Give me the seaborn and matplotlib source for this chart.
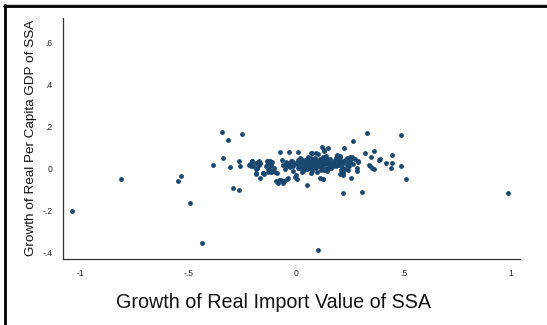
import matplotlib
matplotlib.use("Agg")
import matplotlib.pyplot as plt
from matplotlib.lines import Line2D
import seaborn as sns
import pandas as pd

# Growth of real import value (x) and real per-capita GDP (y), SSA country-years
import_growth = [
    -1.042, -0.810, -0.548, -0.535, -0.494, -0.436, 0.987, 0.101,
    -0.343, -0.250, -0.315, -0.340, -0.386, -0.306, -0.262, -0.258, -0.293, -0.265,
    0.332, 0.487, 0.264, 0.513, 0.309, 0.221, 0.051, 0.490, 0.448, 0.447, 0.441,
    0.419, 0.391, 0.385, 0.362, 0.351, 0.365, 0.345, 0.321, 0.290, 0.283, 0.256,
    0.224, 0.151, 0.123, 0.130, 0.092, 0.069, 0.012, -0.030, -0.073, 0.125, 0.255,
    -0.203, -0.171, -0.166, -0.216, -0.208, -0.179, -0.185, -0.185, -0.166, -0.151,
    -0.128, -0.117, -0.132, -0.109, -0.090, -0.079, -0.055, -0.042, -0.002, 0.002,
    0.202, 0.210, 0.221, 0.228, 0.241, 0.252, 0.260, 0.182, 0.190, 0.205, 0.213,
    0.218, 0.283,
    -0.213, -0.202, -0.197, -0.185, -0.174, -0.170, -0.180, -0.186, -0.154, -0.146,
    -0.131, -0.120, -0.128, -0.115, -0.123, -0.112, -0.131, -0.097, -0.089, -0.081,
    -0.069, -0.058,
    -0.065, -0.058, -0.042, -0.050, -0.027, -0.019, -0.012, 0.004, 0.012, 0.020,
    0.027, 0.035, 0.043, 0.051, 0.058, 0.063, 0.069, 0.074, 0.081, 0.089, 0.094,
    0.100, 0.109, 0.116, 0.125, 0.131, 0.140, 0.146, 0.156, 0.167, 0.174, 0.187,
    0.112, 0.125, -0.035, 0.004, 0.074, 0.102, 0.132, 0.140,
    0.030, 0.045, 0.060, 0.065, 0.078, 0.085, 0.095, 0.105, 0.110, 0.118, 0.128,
    0.135, 0.150, 0.160, 0.165, 0.178, 0.185, 0.195, 0.040, 0.070, 0.020, 0.008,
    -0.008, -0.030, 0.055, 0.090, 0.145, 0.100, 0.075, 0.025,
    0.190, 0.205, 0.197, 0.213, 0.221, 0.236, 0.252, 0.252, 0.236, 0.213, 0.197,
    0.244, 0.221, 0.205, 0.290, 0.340, 0.353,
    0.035, 0.048, 0.062, 0.072, 0.083, 0.098, 0.107, 0.115, 0.122, 0.138, 0.152,
    0.158, 0.172, 0.012, 0.018, -0.015, -0.022, 0.005, 0.042, 0.088, 0.068, 0.053,
    0.113, 0.128, 0.142, 0.162, 0.033, 0.093, 0.079, 0.057, -0.040, -0.045, 0.180,
    0.200, 0.230, 0.245, 0.265, 0.275, -0.140, -0.100,
]
gdp_growth = [
    -0.203, -0.052, -0.060, -0.034, -0.163, -0.357, -0.115, -0.387,
    0.174, 0.166, 0.137, 0.049, 0.015, 0.007, 0.037, 0.012, -0.092, -0.104,
    0.168, 0.161, 0.131, -0.050, -0.111, -0.115, -0.079, 0.010, 0.064, 0.025, 0.002,
    0.028, 0.047, 0.041, 0.085, 0.055, -0.001, 0.010, 0.072, 0.036, 0.002, -0.044,
    0.098, 0.098, 0.101, 0.088, 0.075, 0.075, 0.080, 0.080, 0.077, -0.050, 0.045,
    0.036, 0.036, 0.025, 0.017, 0.012, 0.004, -0.004, -0.028, -0.044, -0.021,
    -0.004, -0.015, 0.037, 0.033, -0.058, -0.053, -0.058, -0.049, -0.039, -0.031,
    0.017, -0.007, -0.020, -0.001, 0.025, 0.044, 0.053, 0.041, 0.056, 0.061, -0.023,
    -0.031, -0.012,
    0.020, 0.036, 0.012, 0.025, 0.032, 0.017, 0.001, -0.023, -0.020, -0.028,
    0.036, 0.037, 0.025, 0.017, 0.001, -0.012, -0.018, -0.015, -0.023, -0.068,
    -0.055, -0.068,
    0.041, 0.017, 0.028, -0.004, 0.009, 0.037, -0.010, 0.025, 0.001, 0.049,
    -0.015, 0.021, 0.041, -0.004, 0.056, 0.017, -0.023, 0.032, 0.001, 0.049, 0.021,
    -0.015, 0.037, 0.009, 0.056, -0.007, 0.025, 0.044, 0.001, 0.032, 0.012, 0.049,
    -0.047, -0.052, -0.044, -0.052, 0.075, 0.069, 0.082, 0.061,
    0.010, 0.030, 0.005, 0.040, 0.018, 0.030, 0.005, 0.025, 0.045, -0.005, 0.015,
    0.038, 0.020, 0.045, 0.003, 0.028, 0.010, 0.035, -0.008, 0.052, 0.030, 0.018,
    0.028, 0.020, 0.022, 0.040, -0.010, 0.012, -0.010, 0.045,
    0.064, 0.056, 0.041, 0.037, 0.025, 0.049, 0.056, 0.032, 0.017, 0.009, 0.017,
    -0.007, -0.023, -0.028, 0.032, 0.017, 0.001,
    0.028, 0.012, 0.034, 0.006, 0.042, 0.020, 0.035, 0.008, 0.030, 0.004, 0.036,
    0.014, 0.022, 0.040, 0.002, 0.012, 0.035, 0.026, 0.038, 0.016, 0.026, 0.044,
    0.018, 0.042, 0.026, 0.020, 0.000, 0.026, 0.035, 0.010, 0.010, 0.030, 0.018,
    0.025, 0.040, 0.012, 0.020, 0.045, 0.010, 0.005,
]

x_ticks = [-1, -0.5, 0, 0.5, 1]
x_tick_labels = ["-1", "-.5", "0", ".5", "1"]
y_ticks = [-0.4, -0.2, 0, 0.2, 0.4, 0.6]
y_tick_labels = ["-.4", "-.2", "0", ".2", ".4", ".6"]

df = pd.DataFrame({"imports": import_growth, "gdp": gdp_growth})

sns.set_style("white")
plt.rcParams["font.family"] = ["Liberation Sans", "DejaVu Sans"]

W, H = 547, 325
fig = plt.figure(figsize=(W / 100, H / 100), dpi=100)
ax = fig.add_axes([62.7 / W, 1 - 258.5 / H, (520 - 62.7) / W, (258.5 - 18.3) / H])

sns.scatterplot(data=df, x="imports", y="gdp", ax=ax, s=12, color="#1a476f",
                linewidth=0, legend=False)

ax.set_xlim(-1.083, 1.041)
ax.set_ylim(-0.429, 0.717)
ax.set_xticks(x_ticks)
ax.set_xticklabels(x_tick_labels)
ax.set_yticks(y_ticks)
ax.set_yticklabels(y_tick_labels)
ax.set_xlabel("")
ax.set_ylabel("")

for side in ("top", "right"):
    ax.spines[side].set_visible(False)
for side in ("left", "bottom"):
    ax.spines[side].set_color("#333333")
    ax.spines[side].set_linewidth(0.9)
ax.tick_params(axis="both", direction="out", length=2.5, width=0.8,
               color="#333333", labelsize=6.2, labelcolor="#222222")
ax.tick_params(axis="x", pad=5)
ax.tick_params(axis="y", pad=5)

fig.text(0.5, 1 - 302.7 / H, "Growth of Real Import Value of SSA",
         ha="center", va="center", fontsize=14.2, color="#111111")
fig.text(31 / W, 1 - 137.5 / H, "Growth of Real Per Capita GDP of SSA",
         ha="center", va="center", rotation=90, fontsize=9.7, color="#111111")

# outer frame: top and left edges
fig.add_artist(Line2D([4 / W, 1], [1 - 4 / H, 1 - 4 / H], color="#c8c8c8",
                      linewidth=0.8, transform=fig.transFigure))
fig.add_artist(Line2D([4 / W, 1], [1 - 5.8 / H, 1 - 5.8 / H], color="black",
                      linewidth=2.0, transform=fig.transFigure))
fig.add_artist(Line2D([5.3 / W, 5.3 / W], [0, 1 - 4.8 / H], color="black",
                      linewidth=2.0, transform=fig.transFigure))

fig.savefig("out.png", dpi=100)
